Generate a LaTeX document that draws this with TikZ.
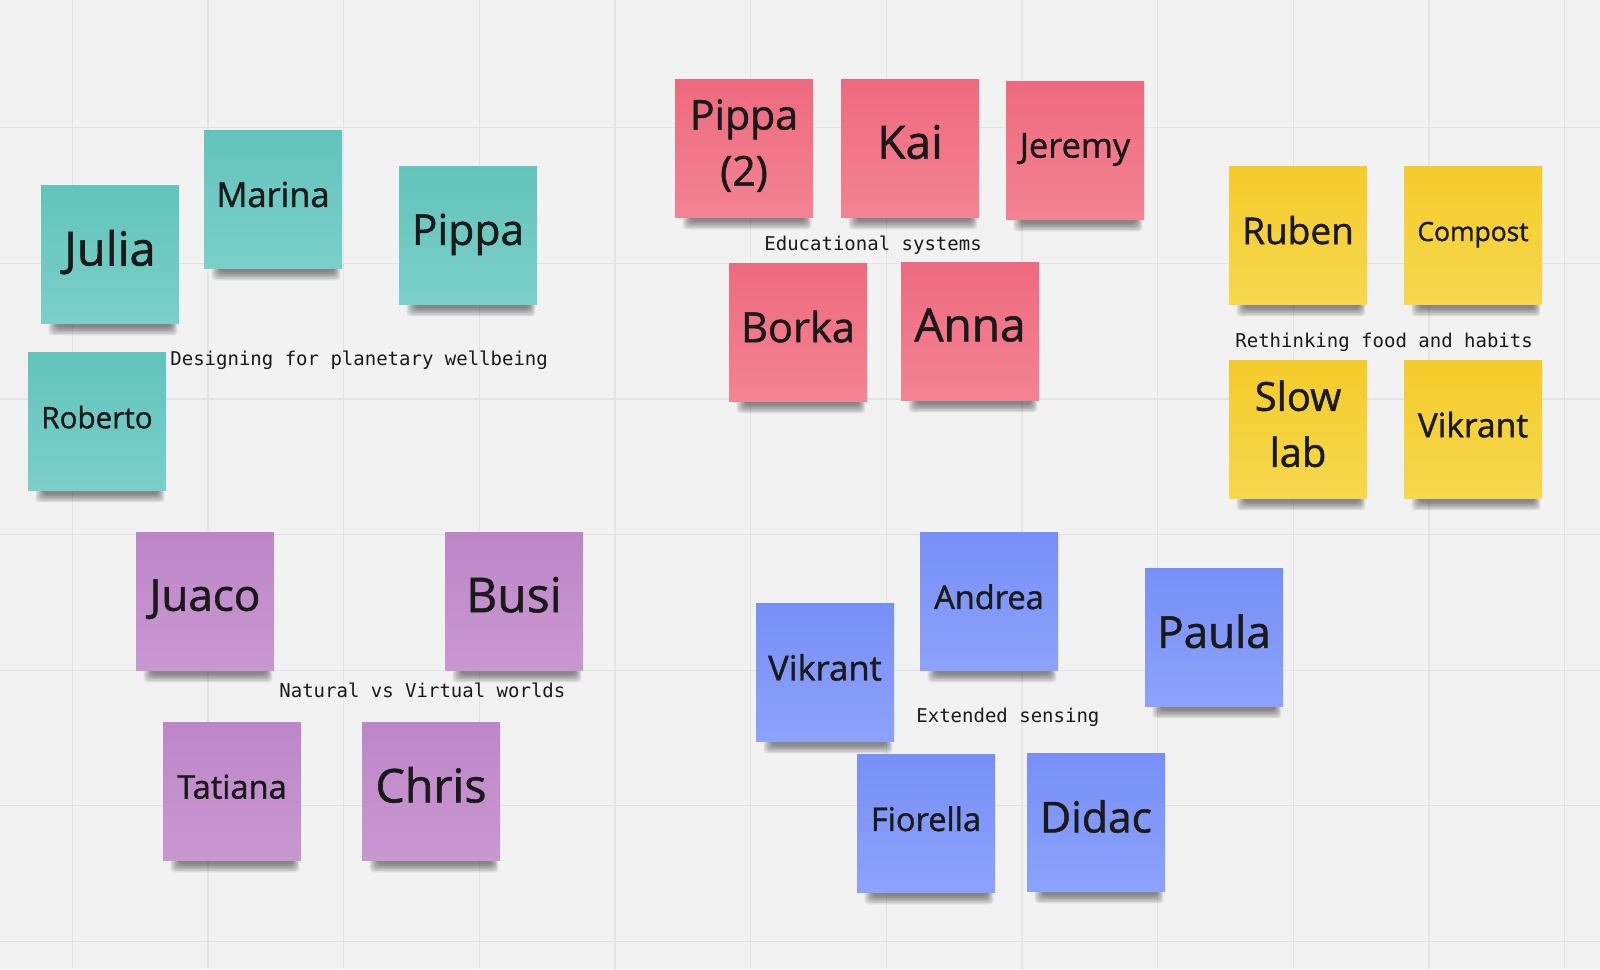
\documentclass[tikz,border=0pt]{standalone}
\usepackage{fontspec}
\setmainfont{Open Sans}
\newfontfamily\notefont{Open Sans}[FakeBold=1.2]
\setmonofont{DejaVu Sans Mono}
\usepackage{xcolor}
\definecolor{boardbg}{HTML}{F2F2F2}
\definecolor{gridln}{HTML}{E4E4E4}
\definecolor{tealtop}{HTML}{62C4BC}
\definecolor{tealbot}{HTML}{7BCFC8}
\definecolor{pinktop}{HTML}{EE6A7E}
\definecolor{pinkbot}{HTML}{F38393}
\definecolor{yelltop}{HTML}{F4CB2A}
\definecolor{yellbot}{HTML}{F6D84E}
\definecolor{purptop}{HTML}{BD86C7}
\definecolor{purpbot}{HTML}{C898D1}
\definecolor{bluetop}{HTML}{788FF7}
\definecolor{bluebot}{HTML}{8CA2FA}
\definecolor{inkdark}{HTML}{1A1A1A}
\usetikzlibrary{backgrounds}

\begin{document}
\begin{tikzpicture}[
  x=0.5pt, y=-0.5pt,
  note/.style={minimum width=69pt, minimum height=69pt, inner sep=0pt,
               align=center, text=inkdark},
  fs/.style={font=\notefont\fontsize{#1}{28}\selectfont, text depth=0.27*#1pt},
  tnote/.style={note, top color=tealtop, bottom color=tealbot},
  pnote/.style={note, top color=pinktop, bottom color=pinkbot},
  ynote/.style={note, top color=yelltop, bottom color=yellbot},
  vnote/.style={note, top color=purptop, bottom color=purpbot},
  bnote/.style={note, top color=bluetop, bottom color=bluebot},
  grouplbl/.style={anchor=west, inner sep=0pt, text=inkdark,
                   font=\ttfamily\fontsize{9.5}{11}\selectfont},
  gridline/.style={draw=gridln, line width=0.6pt},
  shadowblur/.style={fill=black, opacity=0.09, rounded corners=2pt}
]
\useasboundingbox (0,0) rectangle (1600,969);

% designing for planetary wellbeing
\node[tnote, fs=23.5] (julia)   at (110,254) {Julia};
\node[tnote, fs=17.2] (marina)  at (273,199) {Marina};
\node[tnote, fs=21.3] (pippa)   at (468,235) {Pippa};
\node[tnote, fs=14.8] (roberto) at (97,421)  {Roberto};
\node[grouplbl] (lblplanet) at (170,360) {Designing for planetary wellbeing};

% educational systems
\node[pnote, fs=20.5] (pippatwo) at (744,148)  {Pippa\\(2)};
\node[pnote, fs=23]   (kai)      at (910,148)  {Kai};
\node[pnote, fs=17.2] (jeremy)   at (1075,150) {Jeremy};
\node[pnote, fs=20.8] (borka)    at (798,332)  {Borka};
\node[pnote, fs=23]   (anna)     at (970,331)  {Anna};
\node[grouplbl] (lbledu) at (764,245) {Educational systems};

% rethinking food and habits
\node[ynote, fs=18.5] (ruben)       at (1298,235) {Ruben};
\node[ynote, fs=13.2] (compost)     at (1473,235) {Compost};
\node[ynote, fs=20]   (slowlab)     at (1298,429) {Slow\\lab};
\node[ynote, fs=16.8] (vikrantfood) at (1473,429) {Vikrant};
\node[grouplbl] (lblfood) at (1235,342) {Rethinking food and habits};

% natural vs virtual worlds
\node[vnote, fs=22]   (juaco)   at (205,601) {Juaco};
\node[vnote, fs=24]   (busi)    at (514,601) {Busi};
\node[vnote, fs=16.3] (tatiana) at (232,791) {Tatiana};
\node[vnote, fs=23.3] (chris)   at (431,791) {Chris};
\node[grouplbl] (lblworlds) at (279,690) {Natural vs Virtual worlds};

% extended sensing
\node[bnote, fs=17.3] (vikrantsense) at (825,672)  {Vikrant};
\node[bnote, fs=16.3] (andrea)       at (989,601)  {Andrea};
\node[bnote, fs=22]   (paula)        at (1214,637) {Paula};
\node[bnote, fs=16.3] (fiorella)     at (926,823)  {Fiorella};
\node[bnote, fs=21.3] (didac)        at (1096,822) {Didac};
\node[grouplbl] (lblsense) at (916,717) {Extended sensing};

\begin{pgfonlayer}{background}
  \fill[boardbg] (0,0) rectangle (1600,969);
  \foreach \gx in {0,...,11}
    \draw[gridline] ({72.4+135.65*\gx},0) -- ++(0,969);
  \foreach \gy in {0,...,6}
    \draw[gridline] (0,{127.6+135.65*\gy}) -- ++(1600,0);
  % soft shadows under the notes
  \foreach \n in {julia,marina,pippa,roberto,pippatwo,kai,jeremy,borka,anna,
                  ruben,compost,slowlab,vikrantfood,juaco,busi,tatiana,chris,
                  vikrantsense,andrea,paula,fiorella,didac}
    \foreach \k in {0,...,5}
      \fill[shadowblur] ([xshift={8pt-0.8pt*\k},yshift={-2pt-0.8pt*\k}]\n.south west)
        rectangle ([xshift={-4pt+0.6pt*\k},yshift=1pt]\n.south east);
\end{pgfonlayer}
\end{tikzpicture}
\end{document}
